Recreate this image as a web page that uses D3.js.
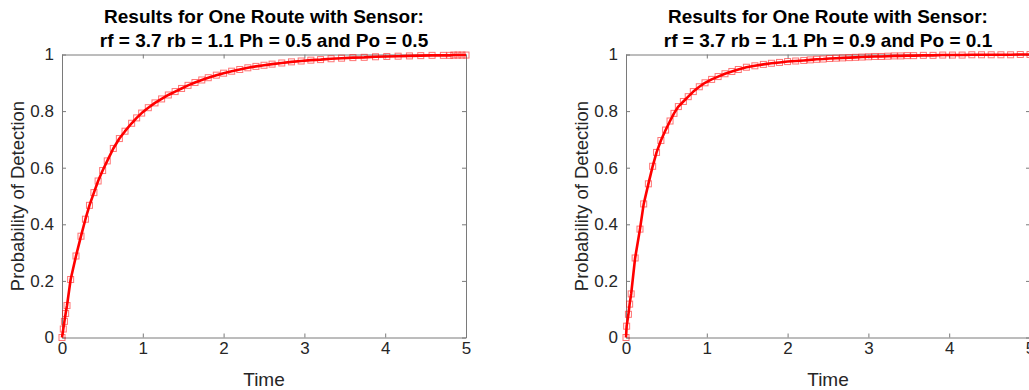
<!DOCTYPE html>
<html>
<head>
<meta charset="utf-8">
<script src="https://cdn.jsdelivr.net/npm/d3@7"></script>
<style>
  html, body { margin: 0; padding: 0; background: #fff; }
  svg { display: block; font-family: "Liberation Sans", Arial, Helvetica, sans-serif; }
</style>
</head>
<body>
<svg id="chart" width="1029" height="390"></svg>
<script>
// Detection probability over time for one route with a sensor
const xTicks = [0, 1, 2, 3, 4, 5];
const yTicks = [0, 0.2, 0.4, 0.6, 0.8, 1];
const yTickLabels = ["0", "0.2", "0.4", "0.6", "0.8", "1"];

const titlesA = ["Results for One Route with Sensor:", "rf = 3.7 rb = 1.1 Ph = 0.5 and Po = 0.5"];
const titlesB = ["Results for One Route with Sensor:", "rf = 3.7 rb = 1.1 Ph = 0.9 and Po = 0.1"];

// Case A: Ph = 0.5, Po = 0.5
const timeA = [0, 0.016, 0.03, 0.045, 0.062, 0.107, 0.173, 0.235, 0.29, 0.34, 0.395, 0.447, 0.503, 0.56,
  0.635, 0.71, 0.78, 0.862, 0.924, 0.986, 1.068, 1.151, 1.233, 1.316, 1.40, 1.48, 1.56, 1.646, 1.73,
  1.81, 1.91, 2.0, 2.1, 2.2, 2.3, 2.4, 2.5, 2.6, 2.72, 2.84, 2.96, 3.08, 3.2, 3.33, 3.46, 3.6, 3.74,
  3.88, 4.02, 4.16, 4.3, 4.44, 4.58, 4.72, 4.8, 4.85, 4.9, 4.95, 5.0];
const probA = [0, 0.03, 0.057, 0.085, 0.113, 0.205, 0.288, 0.358, 0.418, 0.467, 0.512, 0.553, 0.59, 0.624,
  0.668, 0.703, 0.729, 0.757, 0.776, 0.793, 0.812, 0.829, 0.843, 0.857, 0.869, 0.88, 0.891, 0.901, 0.91,
  0.918, 0.927, 0.934, 0.941, 0.947, 0.953, 0.958, 0.962, 0.966, 0.97, 0.974, 0.977, 0.98, 0.982, 0.985,
  0.987, 0.989, 0.99, 0.992, 0.993, 0.994, 0.995, 0.996, 0.997, 0.997, 0.997, 0.998, 0.998, 0.998, 0.998];

// Case B: Ph = 0.9, Po = 0.1
const timeB = [0, 0.008, 0.03, 0.045, 0.064, 0.113, 0.173, 0.219, 0.277, 0.33, 0.378, 0.432, 0.49, 0.545,
  0.594, 0.648, 0.71, 0.77, 0.833, 0.907, 0.978, 1.06, 1.14, 1.225, 1.31, 1.39, 1.49, 1.595, 1.70, 1.80,
  1.9, 2.0, 2.1, 2.2, 2.28, 2.36, 2.44, 2.52, 2.6, 2.68, 2.76, 2.84, 2.92, 3.0, 3.08, 3.16, 3.24, 3.32,
  3.4, 3.48, 3.56, 3.68, 3.8, 3.92, 4.04, 4.16, 4.28, 4.4, 4.52, 4.64, 4.76, 4.88, 5.0];
const probB = [0, 0.04, 0.082, 0.118, 0.154, 0.281, 0.383, 0.472, 0.543, 0.605, 0.654, 0.696, 0.733, 0.765,
  0.792, 0.816, 0.834, 0.851, 0.869, 0.886, 0.9, 0.912, 0.922, 0.932, 0.94, 0.947, 0.955, 0.96, 0.965,
  0.969, 0.972, 0.975, 0.977, 0.979, 0.981, 0.983, 0.984, 0.986, 0.987, 0.988, 0.989, 0.99, 0.991, 0.992,
  0.993, 0.993, 0.994, 0.995, 0.995, 0.996, 0.996, 0.997, 0.997, 0.998, 0.998, 0.998, 0.999, 0.999, 0.999,
  0.999, 0.999, 1.0, 1.0];

const svg = d3.select("#chart");
svg.append("rect").attr("width", 1029).attr("height", 390).attr("fill", "#fff");

const plotTop = 54.5, plotBottom = 337.5, plotWidth = 404;
const axisColor = "#7a7a7a", textColor = "#262626";

function drawPanel(left, titles, times, probs) {
  const x = d3.scaleLinear().domain([0, 5]).range([left, left + plotWidth]);
  const y = d3.scaleLinear().domain([0, 1]).range([plotBottom, plotTop]);
  const g = svg.append("g");

  // Axes with inward ticks on all four sides
  const bottom = g.append("g").attr("transform", `translate(0,${plotBottom})`)
    .call(d3.axisBottom(x).tickValues(xTicks).tickSizeInner(-4).tickSizeOuter(0).tickPadding(4).tickFormat(d3.format("d")));
  const top = g.append("g").attr("transform", `translate(0,${plotTop})`)
    .call(d3.axisTop(x).tickValues(xTicks).tickSizeInner(-4).tickSizeOuter(0).tickFormat(""));
  const leftAx = g.append("g").attr("transform", `translate(${left},0)`)
    .call(d3.axisLeft(y).tickValues(yTicks).tickSizeInner(-4).tickSizeOuter(0).tickPadding(8)
      .tickFormat((d, i) => yTickLabels[i]));
  const rightAx = g.append("g").attr("transform", `translate(${left + plotWidth},0)`)
    .call(d3.axisRight(y).tickValues(yTicks).tickSizeInner(-4).tickSizeOuter(0).tickFormat(""));

  [bottom, top, leftAx, rightAx].forEach(a => {
    a.selectAll("path.domain").attr("stroke", axisColor).attr("stroke-width", 1);
    a.selectAll(".tick line").attr("stroke", axisColor).attr("stroke-width", 1);
    a.selectAll("text").attr("fill", textColor).attr("font-size", 17)
      .attr("font-family", "Liberation Sans, Arial, sans-serif");
  });
  bottom.selectAll("text").attr("dy", "0.71em");

  const pts = times.map((t, i) => [t, probs[i]]);

  // Curve
  g.append("path").datum(pts)
    .attr("fill", "none").attr("stroke", "#ff0000").attr("stroke-width", 2.6)
    .attr("stroke-linejoin", "round")
    .attr("d", d3.line().x(d => x(d[0])).y(d => y(d[1])));

  // Square markers
  g.append("g").selectAll("rect").data(pts).join("rect")
    .attr("x", d => x(d[0]) - 3).attr("y", d => y(d[1]) - 3)
    .attr("width", 6).attr("height", 6)
    .attr("fill", "none").attr("stroke", "#ff0000").attr("stroke-opacity", 0.55).attr("stroke-width", 1);

  // Title
  const cx = left + plotWidth / 2;
  g.append("text").attr("x", cx).attr("y", 23).attr("text-anchor", "middle")
    .attr("font-weight", "bold").attr("font-size", 19).attr("fill", "#000").text(titles[0]);
  g.append("text").attr("x", cx).attr("y", 47).attr("text-anchor", "middle")
    .attr("font-weight", "bold").attr("font-size", 19).attr("fill", "#000").text(titles[1]);

  // Axis labels
  g.append("text").attr("x", cx).attr("y", 386).attr("text-anchor", "middle")
    .attr("font-size", 19).attr("fill", textColor).text("Time");
  g.append("text").attr("transform", `translate(${left - 38},${(plotTop + plotBottom) / 2}) rotate(-90)`)
    .attr("text-anchor", "middle").attr("font-size", 18.5).attr("fill", textColor).text("Probability of Detection");
}

drawPanel(62, titlesA, timeA, probA);
drawPanel(626, titlesB, timeB, probB);
</script>
</body>
</html>
